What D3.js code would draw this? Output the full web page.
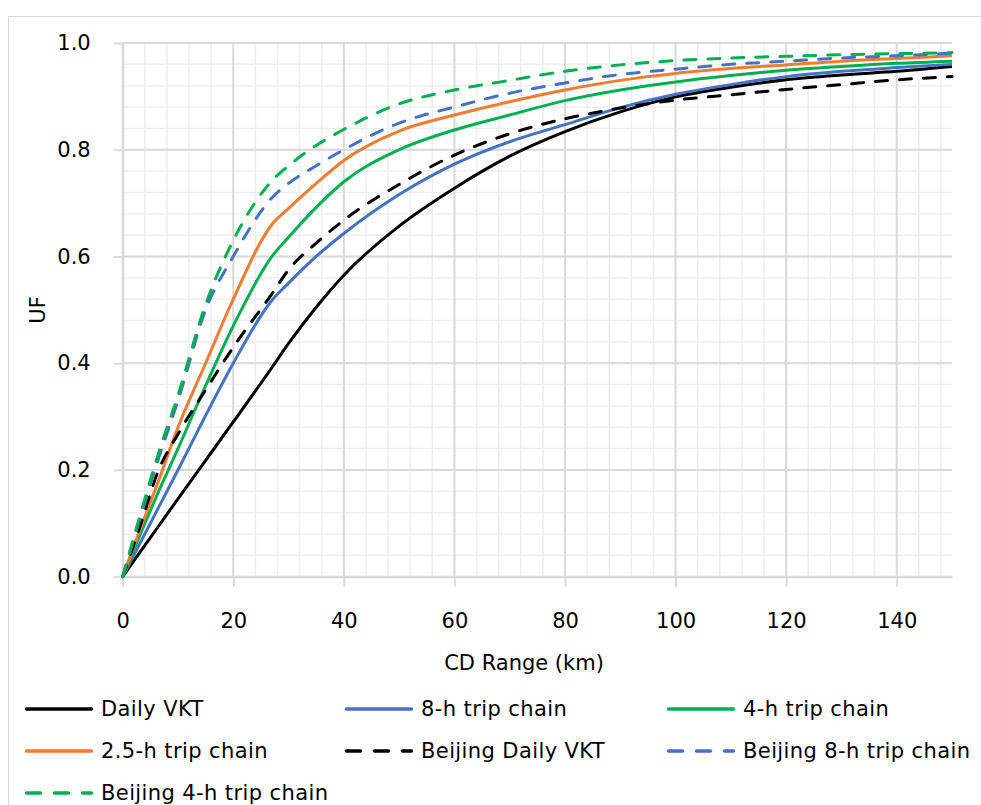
<!DOCTYPE html>
<html>
<head>
<meta charset="utf-8">
<script src="https://cdn.jsdelivr.net/npm/d3@7"></script>
<style>
  html, body { margin: 0; padding: 0; background: #fff; }
  svg { display: block; }
  text { font-family: "DejaVu Sans", sans-serif; fill: #000; }
</style>
</head>
<body>
<svg id="chart" width="981" height="805"></svg>
<script>
// ---------- data ----------
const xValues = [0, 3, 6.5, 10, 15, 20, 27, 30, 35, 40, 50, 60, 70, 80, 90, 100, 110, 120, 130, 140, 150];

const dailyVKT        = [0, 0.044, 0.095, 0.146, 0.218, 0.290, 0.392, 0.437, 0.505, 0.565, 0.657, 0.728, 0.788, 0.834, 0.871, 0.899, 0.917, 0.931, 0.940, 0.947, 0.956];
const trip8h          = [0, 0.060, 0.130, 0.200, 0.302, 0.400, 0.518, 0.550, 0.600, 0.643, 0.716, 0.773, 0.815, 0.847, 0.879, 0.904, 0.922, 0.937, 0.947, 0.954, 0.960];
const trip4h          = [0, 0.075, 0.160, 0.240, 0.358, 0.470, 0.600, 0.636, 0.692, 0.740, 0.800, 0.837, 0.865, 0.892, 0.912, 0.927, 0.939, 0.949, 0.956, 0.962, 0.966];
const trip25h         = [0, 0.085, 0.180, 0.280, 0.400, 0.520, 0.660, 0.690, 0.737, 0.780, 0.835, 0.865, 0.890, 0.912, 0.930, 0.943, 0.952, 0.959, 0.966, 0.971, 0.976];
const beijingDailyVKT = [0, 0.090, 0.200, 0.267, 0.350, 0.430, 0.530, 0.575, 0.625, 0.668, 0.735, 0.790, 0.830, 0.858, 0.878, 0.893, 0.903, 0.913, 0.922, 0.931, 0.937];
const beijing8h       = [0, 0.105, 0.222, 0.330, 0.500, 0.600, 0.710, 0.737, 0.770, 0.800, 0.850, 0.880, 0.906, 0.925, 0.941, 0.951, 0.960, 0.966, 0.972, 0.976, 0.981];
const beijing4h       = [0, 0.110, 0.232, 0.340, 0.510, 0.630, 0.742, 0.770, 0.808, 0.838, 0.886, 0.912, 0.930, 0.947, 0.959, 0.967, 0.972, 0.975, 0.978, 0.980, 0.982];

const seriesNames = ["Daily VKT", "8-h trip chain", "4-h trip chain", "2.5-h trip chain",
                     "Beijing Daily VKT", "Beijing 8-h trip chain", "Beijing 4-h trip chain"];
const seriesValues = [dailyVKT, trip8h, trip4h, trip25h, beijingDailyVKT, beijing8h, beijing4h];
const seriesColors = ["#000000", "#4472C4", "#00B050", "#ED7D31", "#000000", "#4472C4", "#00B050"];
const seriesDashed = [false, false, false, false, true, true, true];

const xTicks = [0, 20, 40, 60, 80, 100, 120, 140];
const yTicks = [0, 0.2, 0.4, 0.6, 0.8, 1.0];
const xMinor = d3.range(0, 151, 4);
const yMinor = d3.range(0, 1.0001, 0.04);

const xTitle = "CD Range (km)";
const yTitle = "UF";

// ---------- layout ----------
const svg = d3.select("#chart");
const mLeft = 122.7, mRight = 952, mTop = 43, mBottom = 576.7;
const FS = 21;

const x = d3.scaleLinear().domain([0, 150]).range([mLeft, mRight]);
const y = d3.scaleLinear().domain([0, 1]).range([mBottom, mTop]);

// chart frame
svg.append("rect").attr("x", 8.5).attr("y", 16.5).attr("width", 1200).attr("height", 1200)
  .attr("fill", "none").attr("stroke", "#d9d9d9").attr("stroke-width", 1);

// minor grid
const g = svg.append("g");
g.selectAll(".vminor").data(xMinor).join("line")
  .attr("x1", d => x(d)).attr("x2", d => x(d)).attr("y1", mTop).attr("y2", mBottom)
  .attr("stroke", "#eeeeee").attr("stroke-width", 1.5);
g.selectAll(".hminor").data(yMinor).join("line")
  .attr("y1", d => y(d)).attr("y2", d => y(d)).attr("x1", mLeft).attr("x2", mRight)
  .attr("stroke", "#eeeeee").attr("stroke-width", 1.5);

// major grid
const g2 = svg.append("g");
g2.selectAll(".vmajor").data(xTicks).join("line")
  .attr("x1", d => x(d)).attr("x2", d => x(d)).attr("y1", mTop).attr("y2", mBottom)
  .attr("stroke", "#d9d9d9").attr("stroke-width", 2);
g2.selectAll(".hmajor").data(yTicks).join("line")
  .attr("y1", d => y(d)).attr("y2", d => y(d)).attr("x1", mLeft).attr("x2", mRight)
  .attr("stroke", "#d9d9d9").attr("stroke-width", 2);

// axes
const xAxis = svg.append("g").attr("transform", `translate(0,${mBottom})`)
  .call(d3.axisBottom(x).tickValues(xTicks).tickSize(10).tickSizeOuter(0).tickPadding(26).tickFormat(d3.format("d")));
const yAxis = svg.append("g").attr("transform", `translate(${mLeft},0)`)
  .call(d3.axisLeft(y).tickValues(yTicks).tickSize(9).tickSizeOuter(0).tickPadding(23).tickFormat(d3.format(".1f")));
[xAxis, yAxis].forEach(a => {
  a.select(".domain").attr("stroke", "#d9d9d9").attr("stroke-width", 2);
  a.selectAll(".tick line").attr("stroke", "#d9d9d9").attr("stroke-width", 2);
  a.selectAll(".tick text").attr("font-family", "DejaVu Sans, sans-serif").attr("font-size", FS).attr("fill", "#000");
});

// axis titles
svg.append("text").attr("x", 524).attr("y", 670).attr("text-anchor", "middle")
  .attr("font-size", FS).text(xTitle);
svg.append("text").attr("transform", "translate(45,310) rotate(-90)").attr("text-anchor", "middle")
  .attr("font-size", FS).text(yTitle);

// lines
const line = d3.line().x(d => x(d[0])).y(d => y(d[1])).curve(d3.curveMonotoneX);
const plot = svg.append("g");
seriesValues.forEach((vals, i) => {
  plot.append("path")
    .datum(xValues.map((xv, j) => [xv, vals[j]]))
    .attr("d", line)
    .attr("fill", "none")
    .attr("stroke", seriesColors[i])
    .attr("stroke-width", 3)
    .attr("stroke-linecap", seriesDashed[i] ? "round" : "butt")
    .attr("stroke-dasharray", seriesDashed[i] ? "12,12" : null);
});

// legend
const legCols = [25, 345, 667];
const legRows = [709, 751, 793];
const legend = svg.append("g");
seriesNames.forEach((name, i) => {
  const cx = legCols[i % 3], cy = legRows[Math.floor(i / 3)];
  legend.append("line").attr("x1", cx + 1.5).attr("x2", cx + 66.5).attr("y1", cy).attr("y2", cy)
    .attr("stroke", seriesColors[i]).attr("stroke-width", 3.5)
    .attr("stroke-linecap", "round")
    .attr("stroke-dasharray", seriesDashed[i] ? "14,14" : null);
  legend.append("text").attr("x", cx + 76).attr("y", cy + 7).attr("font-size", FS)
    .attr("letter-spacing", 0.4).text(name);
});
</script>
</body>
</html>
